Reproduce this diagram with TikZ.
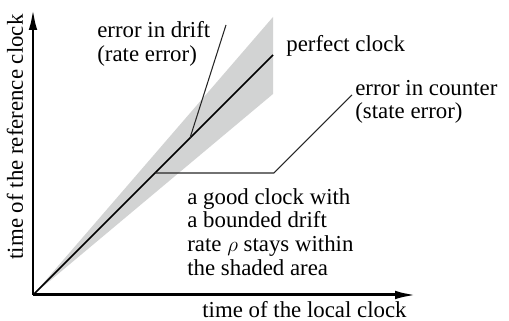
\documentclass[tikz,border=0pt]{standalone}
\usepackage{fontspec}
\setmainfont{Liberation Serif}
\usepackage{tikz}
\usetikzlibrary{arrows.meta}

\begin{document}
\begin{tikzpicture}
    \tikzstyle{axis} = [line width=1.7pt, -{Latex[length=0.44cm,width=0.17cm]}]
    \tikzstyle{clockline} = [line width=0.9pt]
    \tikzstyle{leader} = [line width=0.6pt, draw=black!85]
    \tikzstyle{label} = [font=\fontsize{13}{13.5}\selectfont, align=left, inner sep=0pt]
    \definecolor{wedgegray}{RGB}{210,211,211}

    \useasboundingbox (-0.66,-0.52) rectangle (9.52,5.90);

    % shaded area of a good clock
    \fill [wedgegray] (0,0) -- (4.8,5.56) -- (4.8,4.02) -- cycle;

    \coordinate (O) at (0,0);
    \coordinate (xend) at (7.68,0);
    \coordinate (yend) at (0,5.74);
    \coordinate (perfend) at (4.8,4.8);
    \coordinate (driftpt) at (3.14,3.14);
    \coordinate (driftend) at (3.86,5.40);
    \coordinate (goodpt) at (2.44,2.44);
    \coordinate (bend) at (4.82,2.44);
    \coordinate (counterend) at (6.38,4.00);

    \draw [clockline] (O) -- (perfend);
    \draw [leader] (driftpt) -- (driftend);
    \draw [leader] (goodpt) -- (bend) -- (counterend);

    \draw [axis] (O) -- (xend);
    \draw [axis] (O) -- (yend);

    \node (drift) [label, anchor=west] at (1.28,5.02) {error in drift\\(rate error)};
    \node (perfect) [label, anchor=west] at (5.06,4.98) {perfect clock};
    \node (counter) [label, anchor=west] at (6.44,3.86) {error in counter\\(state error)};
    \node (good) [label, anchor=west] at (3.08,1.26) {a good clock with\\a bounded drift\\rate $\rho$ stays within\\the shaded area};
    \node (xlabel) [label] at (5.43,-0.30) {time of the local clock};
    \node (ylabel) [label, rotate=90] at (-0.36,3.16) {time of the reference clock};
\end{tikzpicture}
\end{document}
